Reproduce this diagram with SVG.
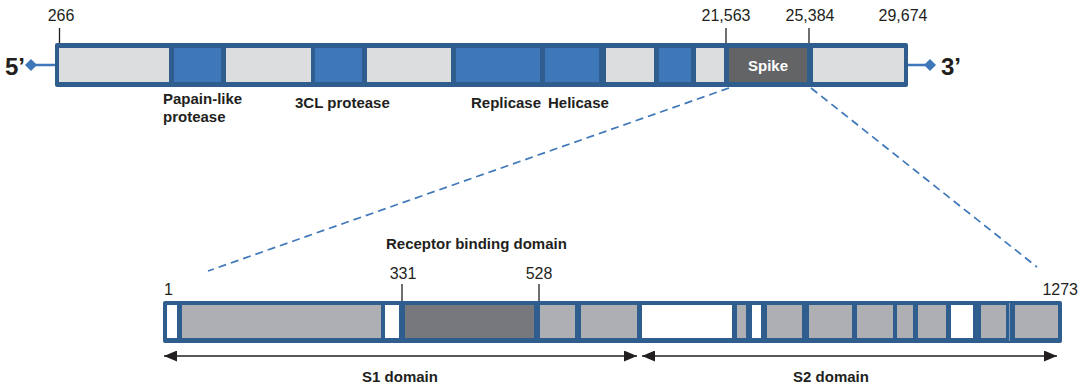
<svg xmlns="http://www.w3.org/2000/svg" width="1085" height="390" viewBox="0 0 1085 390">
<defs>
<style>
.num{font-family:"Liberation Sans",Arial,sans-serif;font-size:16px;fill:#231F20}
.lbl{font-family:"Liberation Sans",Arial,sans-serif;font-size:15px;font-weight:bold;fill:#231F20}
.end{font-family:"Liberation Sans",Arial,sans-serif;font-size:24px;font-weight:bold;fill:#231F20}
.frame{fill:#2F5E8E}
.lg{fill:#DCDDDF}
.bl{fill:#3F78B8}
.gr{fill:#ADAFB2}
.dk{fill:#77787B}
.wh{fill:#FFFFFF}
.tick{stroke:#231F20;stroke-width:1.3}
.dash{stroke:#3F78B8;stroke-width:1.7;stroke-dasharray:8 5;fill:none}
.arr{stroke:#231F20;stroke-width:1.6;fill:none;marker-start:url(#ah);marker-end:url(#ah)}
</style>
<marker id="ah" viewBox="0 0 13 11" refX="13" refY="5.5" markerWidth="13" markerHeight="11" markerUnits="userSpaceOnUse" orient="auto-start-reverse">
<path d="M0,0 L13,5.5 L0,11 Z" fill="#231F20"/>
</marker>
</defs>

<g id="connectors">
<line class="dash" x1="729" y1="88" x2="208" y2="271"/>
<line class="dash" x1="811" y1="88" x2="1037" y2="267"/>
<line class="arr" x1="164" y1="356" x2="637" y2="356"/>
<line class="arr" x1="642" y1="356" x2="1057" y2="356"/>
<line x1="31" y1="65" x2="55" y2="65" stroke="#3F78B8" stroke-width="2.5"/>
<line x1="908" y1="65" x2="930" y2="65" stroke="#3F78B8" stroke-width="2.5"/>
</g>

<g id="genome">
<rect class="frame" x="55" y="43" width="853" height="44" rx="2"/>
<rect class="lg" x="59" y="48" width="110" height="34"/>
<rect class="bl" x="174" y="48" width="47" height="34"/>
<rect class="lg" x="226" y="48" width="85" height="34"/>
<rect class="bl" x="315" y="48" width="47" height="34"/>
<rect class="lg" x="367" y="48" width="84" height="34"/>
<rect class="bl" x="456" y="48" width="84" height="34"/>
<rect class="bl" x="545" y="48" width="54" height="34"/>
<rect class="lg" x="606" y="48" width="48" height="34"/>
<rect class="bl" x="659" y="48" width="32" height="34"/>
<rect class="lg" x="696" y="48" width="28" height="34"/>
<rect x="729" y="48" width="78" height="34" fill="#636466"/>
<rect class="lg" x="813" y="48" width="91" height="34"/>
<text x="768" y="71" text-anchor="middle" font-family="Liberation Sans, Arial, sans-serif" font-size="15" font-weight="bold" fill="#FFFFFF">Spike</text>
</g>

<g id="five-prime">
<path d="M31,59 L37,65 L31,71 L25,65 Z" fill="#3F78B8"/>
<text class="end" x="5" y="75">5’</text>
</g>

<g id="three-prime">
<path d="M930,59 L936,65 L930,71 L924,65 Z" fill="#3F78B8"/>
<text class="end" x="941" y="75">3’</text>
</g>

<g id="genome-ticks">
<line class="tick" x1="59.5" y1="28" x2="59.5" y2="43"/>
<line class="tick" x1="726" y1="28" x2="726" y2="43"/>
<line class="tick" x1="809" y1="28" x2="809" y2="43"/>
<text class="num" x="61" y="21" text-anchor="middle">266</text>
<text class="num" x="726" y="21" text-anchor="middle">21,563</text>
<text class="num" x="810" y="21" text-anchor="middle">25,384</text>
<text class="num" x="903" y="21" text-anchor="middle">29,674</text>
</g>

<g id="genome-labels">
<text class="lbl" x="163" y="104">Papain-like</text>
<text class="lbl" x="163" y="122">protease</text>
<text class="lbl" x="295" y="108">3CL protease</text>
<text class="lbl" x="471" y="108">Replicase</text>
<text class="lbl" x="548" y="108">Helicase</text>
</g>

<g id="spike-protein">
<rect class="frame" x="163" y="301" width="899" height="42" rx="2"/>
<rect class="wh" x="167" y="305" width="10" height="33"/>
<rect class="gr" x="182" y="305" width="199" height="33"/>
<rect class="wh" x="385" y="305" width="14" height="33"/>
<rect class="dk" x="405" y="305" width="129" height="33"/>
<rect class="gr" x="540" y="305" width="35" height="33"/>
<rect class="gr" x="581" y="305" width="56" height="33"/>
<rect class="wh" x="642" y="305" width="90" height="33"/>
<rect class="gr" x="737" y="305" width="9" height="33"/>
<rect class="wh" x="752" y="305" width="9" height="33"/>
<rect class="gr" x="767" y="305" width="35" height="33"/>
<rect class="gr" x="809" y="305" width="43" height="33"/>
<rect class="gr" x="857" y="305" width="36" height="33"/>
<rect class="gr" x="897" y="305" width="16" height="33"/>
<rect class="gr" x="918" y="305" width="28" height="33"/>
<rect class="wh" x="951" y="305" width="22" height="33"/>
<rect class="gr" x="981" y="305" width="25" height="33"/>
<rect class="gr" x="1015" y="305" width="43" height="33"/>
<line x1="1009.5" y1="303" x2="1009.5" y2="341" stroke="#7F9DBE" stroke-width="1"/>
</g>

<g id="spike-ticks">
<line class="tick" x1="402" y1="284" x2="402" y2="301"/>
<line class="tick" x1="539" y1="284" x2="539" y2="301"/>
<text class="num" x="164" y="295">1</text>
<text class="num" x="403" y="279" text-anchor="middle">331</text>
<text class="num" x="539" y="279" text-anchor="middle">528</text>
<text class="num" x="1078" y="295" text-anchor="end">1273</text>
</g>

<g id="rbd-label">
<text class="lbl" x="386" y="249">Receptor binding domain</text>
</g>

<g id="domain-labels">
<text class="lbl" x="400" y="382" text-anchor="middle">S1 domain</text>
<text class="lbl" x="831" y="382" text-anchor="middle">S2 domain</text>
</g>
</svg>
